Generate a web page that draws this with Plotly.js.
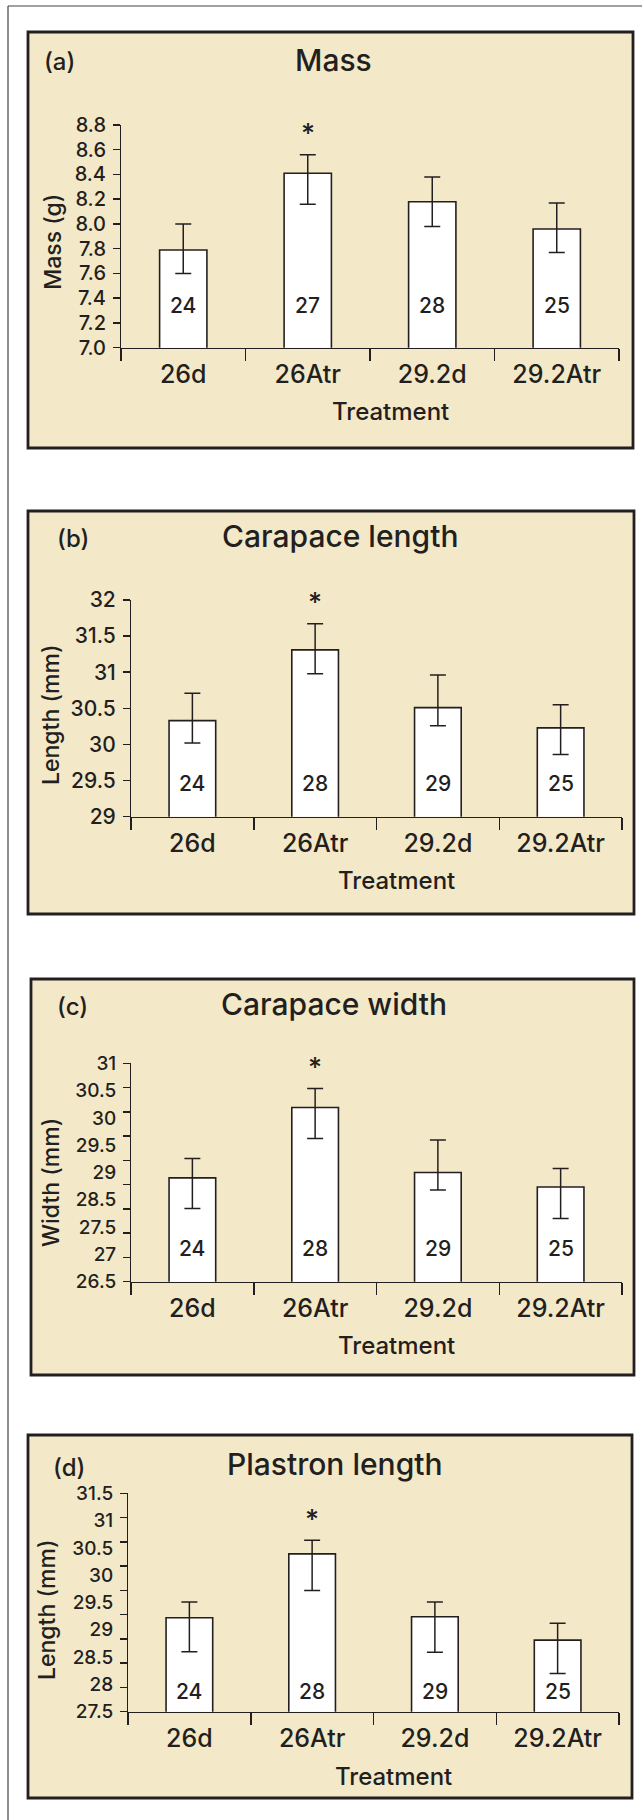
<!DOCTYPE html>
<html>
<head>
<meta charset="utf-8">
<script src="https://cdn.plot.ly/plotly-3.0.1.min.js"></script>
<style>html,body{margin:0;padding:0;background:#fff;}#chart{width:642px;height:1820px;}</style>
</head>
<body>
<div id="chart"></div>
<script>
// ---------------- data ----------------
const categories = ['26d', '26Atr', '29.2d', '29.2Atr'];

const massMean = [7.79, 8.41, 8.18, 7.96];
const massErrPlus = [0.21, 0.15, 0.20, 0.21];
const massErrMinus = [0.19, 0.25, 0.20, 0.19];
const massN = [24, 27, 28, 25];
const massTickLabels = ['7.0', '7.2', '7.4', '7.6', '7.8', '8.0', '8.2', '8.4', '8.6', '8.8'];

const clMean = [30.33, 31.31, 30.51, 30.23];
const clErrPlus = [0.38, 0.36, 0.45, 0.32];
const clErrMinus = [0.31, 0.33, 0.25, 0.37];
const clN = [24, 28, 29, 25];
const clTickLabels = ['29', '29.5', '30', '30.5', '31', '31.5', '32'];

const cwMean = [28.64, 30.09, 28.75, 28.45];
const cwErrPlus = [0.40, 0.39, 0.67, 0.38];
const cwErrMinus = [0.63, 0.64, 0.36, 0.65];
const cwN = [24, 28, 29, 25];
const cwTickLabels = ['26.5', '27', '27.5', '28.5', '29', '29.5', '30', '30.5', '31'];

const plMean = [29.22, 30.39, 29.24, 28.81];
const plErrPlus = [0.29, 0.25, 0.27, 0.31];
const plErrMinus = [0.62, 0.67, 0.65, 0.61];
const plN = [24, 28, 29, 25];
const plTickLabels = ['27.5', '28', '28.5', '29', '29.5', '30', '30.5', '31', '31.5'];

const panelTitles = ['Mass', 'Carapace length', 'Carapace width', 'Plastron length'];
const panelTags = ['(a)', '(b)', '(c)', '(d)'];
const yTitles = ['Mass (g)', 'Length (mm)', 'Width (mm)', 'Length (mm)'];
const xTitle = 'Treatment';
const starCategory = '26Atr';

// ---------------- layout geometry (pixels) ----------------
const W = 642, H = 1820;
const INK = '#231f20';
const BEIGE = '#f3e9c9';
const FONT = 'Inter, Liberation Sans, Arial, sans-serif';
const WT = 500;
const px = p => p / W;
const py = p => 1 - p / H;
const f = (size) => ({size: size, color: INK, family: FONT, weight: WT});

const panels = [
  {mean: massMean, ep: massErrPlus, em: massErrMinus, n: massN, labels: massTickLabels, range: [7.0, 8.8], marks: 10,
   box: [28, 32, 633, 448], plot: [121, 125, 619, 347.7], title: [334, 60], tag: [42, 62], yt: [53, 241.7], xtY: 411.7, nShift: 41.7, tickFs: 20},
  {mean: clMean, ep: clErrPlus, em: clErrMinus, n: clN, labels: clTickLabels, range: [29, 32], marks: 7,
   box: [28, 511, 634, 914], plot: [131, 600, 622, 816.7], title: [340, 536], tag: [55, 538], yt: [51, 715], xtY: 880.7, nShift: 33.4, tickFs: 21},
  {mean: cwMean, ep: cwErrPlus, em: cwErrMinus, n: cwN, labels: cwTickLabels, range: [26.5, 31], marks: 10,
   box: [31, 979, 634, 1375], plot: [131, 1063.3, 622, 1281.7], title: [334, 1004], tag: [55, 1006], yt: [51, 1183], xtY: 1345, nShift: 33.4, tickFs: 19},
  {mean: plMean, ep: plErrPlus, em: plErrMinus, n: plN, labels: plTickLabels, range: [27.5, 31.5], marks: 10,
   box: [28, 1435, 632, 1798], plot: [128, 1493.3, 619, 1711.7], title: [334.6, 1464], tag: [51, 1467], yt: [47, 1610], xtY: 1776, nShift: 20, tickFs: 19}
];

function spaced(r, count) {
  const out = [];
  for (let i = 0; i < count; i++) out.push(r[0] + (r[1] - r[0]) * i / (count - 1));
  return out;
}

const traces = [];
const layout = {
  width: W, height: H,
  margin: {l: 0, r: 0, t: 0, b: 0},
  paper_bgcolor: '#ffffff',
  plot_bgcolor: 'rgba(0,0,0,0)',
  showlegend: false,
  font: f(20),
  shapes: [],
  annotations: []
};

// outer figure frame (left and top edges)
layout.shapes.push({type: 'line', xref: 'paper', yref: 'paper', x0: px(8), x1: px(8), y0: py(6), y1: py(1820), line: {color: '#444', width: 1.2}, layer: 'below'});
layout.shapes.push({type: 'line', xref: 'paper', yref: 'paper', x0: px(8), x1: px(642), y0: py(6), y1: py(6), line: {color: '#444', width: 1.2}, layer: 'below'});

panels.forEach((p, i) => {
  const k = i + 1;
  const xs = k === 1 ? '' : String(k);
  const xa = 'x' + xs, ya = 'y' + xs;
  const labelAxisNum = k + 4;
  const xDom = [px(p.plot[0]), px(p.plot[2])];
  const yDom = [py(p.plot[3]), py(p.plot[1])];

  // panel box
  layout.shapes.push({type: 'rect', xref: 'paper', yref: 'paper', layer: 'below',
    x0: px(p.box[0]), x1: px(p.box[2]), y0: py(p.box[3]), y1: py(p.box[1]),
    fillcolor: BEIGE, line: {color: INK, width: 2.8}});

  traces.push({
    type: 'bar', x: categories, y: p.mean, xaxis: xa, yaxis: ya,
    width: 0.38,
    marker: {color: '#ffffff', line: {color: INK, width: 1.6}},
    error_y: {type: 'data', symmetric: false, array: p.ep, arrayminus: p.em, color: INK, thickness: 1.5, width: 8},
    hoverinfo: 'x+y'
  });
  // invisible carrier so the label axis is drawn
  traces.push({type: 'scatter', mode: 'markers', x: categories, y: p.mean, xaxis: xa, yaxis: 'y' + labelAxisNum,
    marker: {opacity: 0, size: 1}, hoverinfo: 'skip'});

  layout['xaxis' + xs] = {
    domain: xDom, anchor: ya, type: 'category', categoryorder: 'array', categoryarray: categories,
    range: [-0.5, 3.5], tickson: 'boundaries', ticks: 'outside', ticklen: 12, tickwidth: 1.5, tickcolor: INK,
    showline: true, linecolor: INK, linewidth: 1.5, showgrid: false, zeroline: false, fixedrange: true,
    tickfont: f(25), ticklabelstandoff: 4
  };
  // axis carrying tick marks and the line
  layout['yaxis' + xs] = {
    domain: yDom, anchor: xa, range: p.range, tickmode: 'array', tickvals: spaced(p.range, p.marks),
    showticklabels: false, ticks: 'outside', ticklen: 7, tickwidth: 1.5, tickcolor: INK,
    showline: true, linecolor: INK, linewidth: 1.5, showgrid: false, zeroline: false, fixedrange: true
  };
  // axis carrying the printed labels
  layout['yaxis' + labelAxisNum] = {
    overlaying: ya, anchor: xa, side: 'left', range: p.range, tickmode: 'array',
    tickvals: spaced(p.range, p.labels.length), ticktext: p.labels,
    ticks: 'outside', ticklen: 7, tickcolor: 'rgba(0,0,0,0)', showline: false, showgrid: false, zeroline: false,
    fixedrange: true, tickfont: f(p.tickFs), ticklabelstandoff: 3
  };

  // panel title and tag
  layout.annotations.push({xref: 'paper', yref: 'paper', x: px(p.title[0]), y: py(p.title[1]), text: panelTitles[i],
    showarrow: false, xanchor: 'center', yanchor: 'middle', font: f(30)});
  layout.annotations.push({xref: 'paper', yref: 'paper', x: px(p.tag[0]), y: py(p.tag[1]), text: panelTags[i],
    showarrow: false, xanchor: 'left', yanchor: 'middle', font: f(24)});
  // axis titles
  layout.annotations.push({xref: 'paper', yref: 'paper', x: px(p.yt[0]), y: py(p.yt[1]), text: yTitles[i], textangle: -90,
    showarrow: false, xanchor: 'center', yanchor: 'middle', font: f(23)});
  layout.annotations.push({xref: 'paper', yref: 'paper', x: px((p.plot[0] + p.plot[2]) / 2 + 20), y: py(p.xtY), text: xTitle,
    showarrow: false, xanchor: 'center', yanchor: 'middle', font: f(24)});
  // sample sizes
  categories.forEach((c, j) => {
    layout.annotations.push({xref: xa, yref: ya, x: c, y: p.range[0], yshift: p.nShift, text: String(p.n[j]),
      showarrow: false, xanchor: 'center', yanchor: 'middle', font: f(21)});
  });
  // significance star
  const sj = categories.indexOf(starCategory);
  layout.annotations.push({xref: xa, yref: ya, x: starCategory, y: p.mean[sj] + p.ep[sj], yshift: 21, text: '*',
    showarrow: false, xanchor: 'center', yanchor: 'middle', font: f(27)});
});

Plotly.newPlot('chart', traces, layout, {staticPlot: true, displayModeBar: false});
</script>
</body>
</html>
